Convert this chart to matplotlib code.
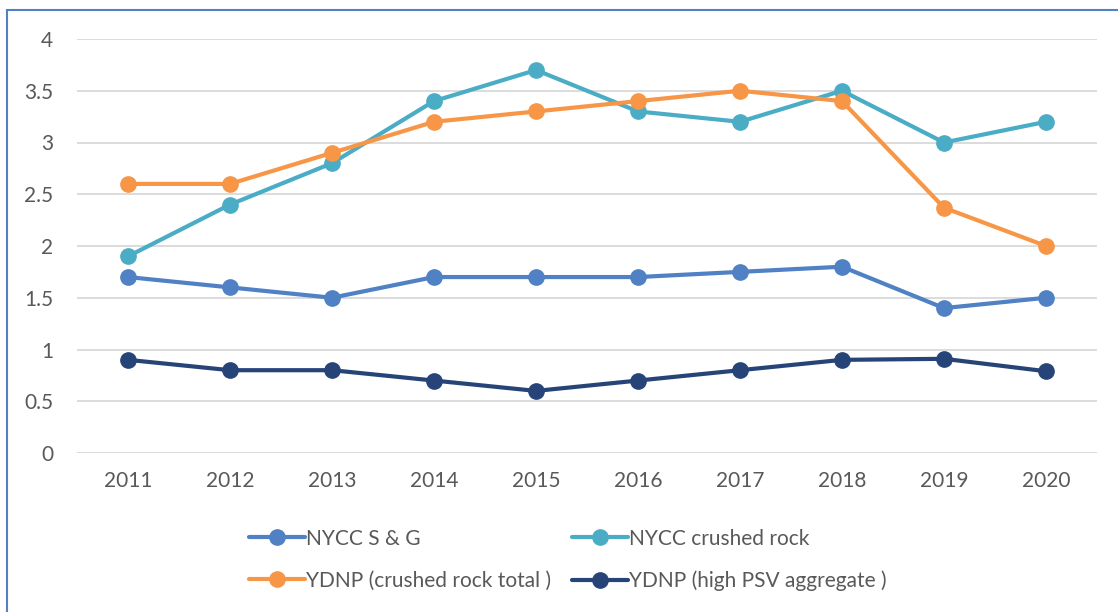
import matplotlib.pyplot as plt
from matplotlib.patches import Rectangle

# Data
years = ['2011', '2012', '2013', '2014', '2015', '2016', '2017', '2018', '2019', '2020']
nycc_sg = [1.7, 1.6, 1.5, 1.7, 1.7, 1.7, 1.75, 1.8, 1.4, 1.5]
nycc_crushed = [1.9, 2.4, 2.8, 3.4, 3.7, 3.3, 3.2, 3.5, 3.0, 3.2]
ydnp_crushed_total = [2.6, 2.6, 2.9, 3.2, 3.3, 3.4, 3.5, 3.4, 2.37, 2.0]
ydnp_high_psv = [0.9, 0.8, 0.8, 0.7, 0.6, 0.7, 0.8, 0.9, 0.91, 0.79]

series = [
    ('NYCC S & G', nycc_sg, '#4F81C4'),
    ('NYCC crushed rock', nycc_crushed, '#4BACC6'),
    ('YDNP (crushed rock total )', ydnp_crushed_total, '#F79646'),
    ('YDNP (high PSV aggregate )', ydnp_high_psv, '#264478'),
]

plt.rcParams['font.family'] = ['Lato', 'DejaVu Sans']
text_col = '#595959'

fig = plt.figure(figsize=(11.18, 6.12), dpi=100)
ax = fig.add_axes([77 / 1118, 1 - 453 / 612, 1020 / 1118, 414 / 612])

x = list(range(len(years)))
lines = []
for label, vals, col in series:
    ln, = ax.plot(x, vals, color=col, lw=3, marker='o', markersize=11, label=label,
                  solid_capstyle='round')
    lines.append(ln)

ax.set_xlim(-0.5, len(years) - 0.5)
ax.set_ylim(0, 4)
ax.set_yticks([0, 0.5, 1, 1.5, 2, 2.5, 3, 3.5, 4])
ax.set_yticklabels(['0', '0.5', '1', '1.5', '2', '2.5', '3', '3.5', '4'])
ax.set_xticks(x)
ax.set_xticklabels(years)
ax.grid(axis='y', color='#d9d9d9', lw=1.3)
ax.set_axisbelow(True)
for s in ax.spines.values():
    s.set_visible(False)
ax.tick_params(axis='both', length=0, labelsize=15, colors=text_col)
ax.tick_params(axis='y', pad=17)
ax.tick_params(axis='x', pad=13)

# legend filled row by row like the original
order = [0, 2, 1, 3]
fig.legend([lines[i] for i in order], [series[i][0] for i in order],
           loc='upper left', bbox_to_anchor=(230 / 1118, 1 - 510 / 612), ncol=2,
           frameon=False, fontsize=15, handlelength=2.7, columnspacing=1.0,
           handletextpad=0.05, labelspacing=1.05, labelcolor=text_col)

# chart border (cropped on right and bottom)
fig.patches.append(Rectangle((7 / 1118, -0.1), 1.2, 1.1 - 10 / 612,
                             transform=fig.transFigure, fill=False,
                             edgecolor='#4F81C4', lw=1.5))

fig.savefig('out.png', dpi=100)
